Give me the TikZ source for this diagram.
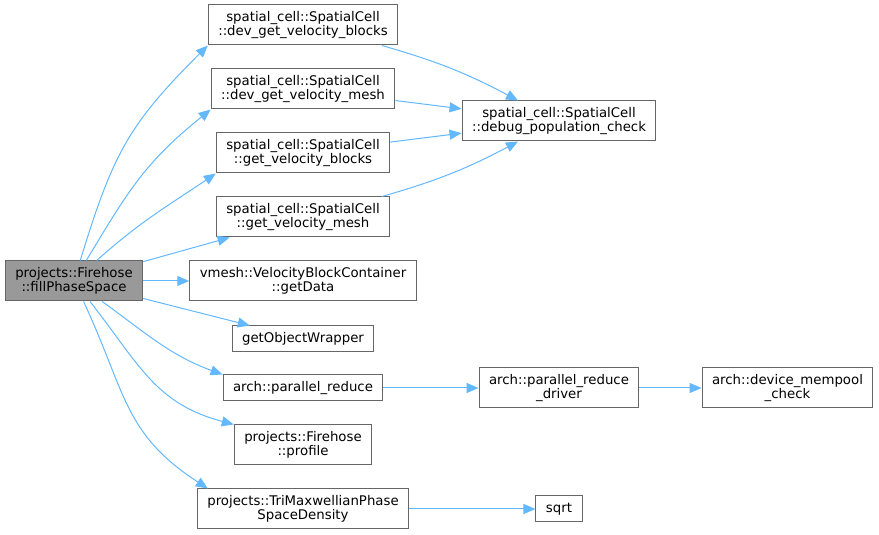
\documentclass[tikz,border=0pt]{standalone}
\usepackage{fontspec}
\setmainfont{DejaVu Sans}
\usepackage{tikz}
\usetikzlibrary{arrows.meta,positioning}
\definecolor{edgeblue}{HTML}{63B8FF}
\definecolor{boxgray}{HTML}{666666}
\definecolor{hlgray}{HTML}{999999}

\begin{document}
\begin{tikzpicture}[
    node distance=64pt,
    >={Triangle[length=12pt,width=10pt]},
    font=\fontsize{13.3}{14.3}\selectfont,
    func/.style={
		rectangle,
		draw=boxgray,
		line width=1pt,
		align=center,
		inner xsep=10pt,
		inner ysep=3pt,
		minimum height=26pt,
		fill=white
	},
	functwo/.style={
		func,
		minimum height=40pt
	},
	call/.style={
		->,
		draw=edgeblue,
		line width=1pt
	}
  ]
  \useasboundingbox (-74pt,281pt) rectangle (805pt,-254pt);
    % the calling function and the column it calls

  \node [functwo, fill=hlgray] (fill) {projects::Firehose\\::fillPhaseSpace};

  \node [functwo, right of=fill, xshift=165pt] (getdata)
 {vmesh::VelocityBlockContainer\\::getData};

  \node [functwo, above of=getdata] (getmesh)
 {spatial\_cell::SpatialCell\\::get\_velocity\_mesh};

  \node [functwo, above of=getmesh] (getblocks)
 {spatial\_cell::SpatialCell\\::get\_velocity\_blocks};

  \node [functwo, above of=getblocks] (devmesh)
 {spatial\_cell::SpatialCell\\::dev\_get\_velocity\_mesh};

  \node [functwo, above of=devmesh] (devblocks)
 {spatial\_cell::SpatialCell\\::dev\_get\_velocity\_blocks};

  \node [func, below of=getdata, yshift=6pt] (wrapper) {getObjectWrapper};

  \node [func, below of=wrapper, yshift=15pt] (reduce) {arch::parallel\_reduce};

  \node [functwo, below of=reduce, yshift=7pt] (profile)
 {projects::Firehose\\::profile};

  \node [functwo, below of=profile] (density)
 {projects::TriMaxwellianPhase\\SpaceDensity};

    % second level
  \node [functwo, right of=devmesh, xshift=192pt, yshift=-32pt] (debug)
 {spatial\_cell::SpatialCell\\::debug\_population\_check};

  \node [functwo, right of=reduce, xshift=192pt] (driver)
 {arch::parallel\_reduce\\\_driver};

  \node [func, right of=density, xshift=192pt] (sqrt) {sqrt};

  \node [functwo, right of=driver, xshift=164.5pt] (mempool)
 {arch::device\_mempool\\\_check};

 \draw [call] (fill) to[out=73,in=225,looseness=1.15] (devblocks.south west);
 \draw [call] (fill) to[out=59,in=219,looseness=1.1] (devmesh.south west);
 \draw [call] (fill) to[out=42,in=214] (getblocks.south west);
 \draw [call] (fill) -- (getmesh);
 \draw [call] (fill) -- (getdata);
 \draw [call] (fill) -- (wrapper);
 \draw [call] (fill) to[out=-36,in=160] (reduce.north west);
 \draw [call] (fill) to[out=-52,in=165,looseness=1.1] (profile.north west);
 \draw [call] (fill) to[out=-65,in=147,looseness=1.15] ([xshift=11pt]density.north west);

 \draw [call] (devblocks) to[bend left=6] (debug);
 \draw [call] (devmesh) -- (debug);
 \draw [call] (getblocks) -- (debug);
 \draw [call] (getmesh) to[bend right=6] (debug);
 \draw [call] (reduce) -- (driver);
 \draw [call] (driver) -- (mempool);
 \draw [call] (density) -- (sqrt);

\end{tikzpicture}
\end{document}
